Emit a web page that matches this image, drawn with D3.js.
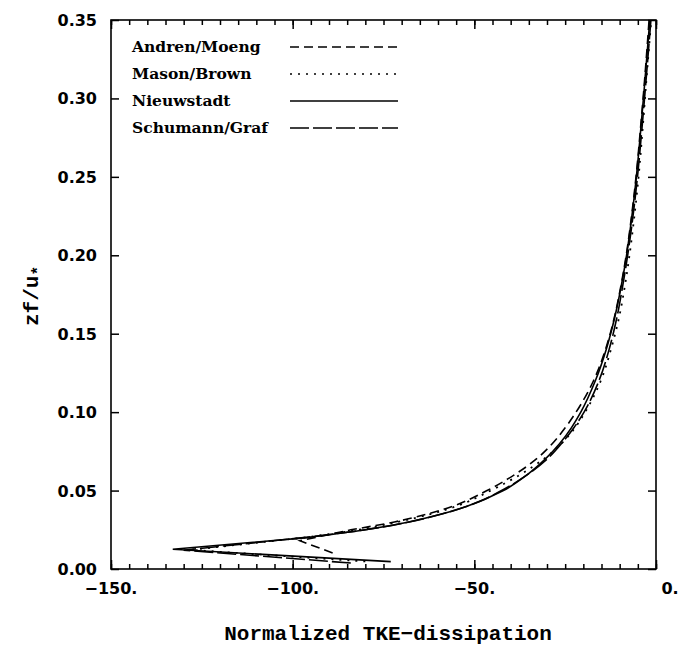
<!DOCTYPE html>
<html>
<head>
<meta charset="utf-8">
<script src="https://cdn.jsdelivr.net/npm/d3@7"></script>
<style>
  html, body { margin: 0; padding: 0; background: #fff; }
  svg { display: block; }
</style>
</head>
<body>
<svg id="chart" width="680" height="650"></svg>
<script>
// ---------- data ----------
const seriesNames = ["Andren/Moeng", "Mason/Brown", "Nieuwstadt", "Schumann/Graf"];

const andrenZ = [0.0102, 0.018, 0.025, 0.030, 0.035, 0.040, 0.050, 0.060, 0.070, 0.080, 0.090, 0.100, 0.120, 0.140, 0.160, 0.180, 0.200, 0.220, 0.250, 0.280, 0.310, 0.350];
const andrenX = [-89, -98, -84, -72, -63, -56, -46.5, -39, -33, -28.5, -25, -22, -17.2, -13.9, -11.5, -9.7, -8.2, -7.0, -5.5, -4.3, -3.2, -1.9];

const masonZ = [0.0048, 0.0122, 0.020, 0.025, 0.030, 0.035, 0.040, 0.050, 0.060, 0.070, 0.080, 0.090, 0.100, 0.120, 0.140, 0.160, 0.180, 0.200, 0.220, 0.250, 0.280, 0.310, 0.350];
const masonX = [-80, -128, -97, -82, -71, -62, -55, -45.5, -37.5, -31, -26, -22.3, -19.5, -15.2, -12.4, -10.2, -8.6, -7.3, -6.2, -4.8, -3.7, -2.7, -1.3];

const nieuwZ = [0.0047, 0.0126, 0.020, 0.025, 0.030, 0.035, 0.040, 0.050, 0.060, 0.070, 0.080, 0.090, 0.100, 0.120, 0.140, 0.160, 0.180, 0.200, 0.220, 0.250, 0.280, 0.310, 0.350];
const nieuwX = [-73, -133, -96, -80, -68, -59, -52, -42, -35.5, -30.5, -26.5, -23.3, -20.7, -16.7, -13.7, -11.4, -9.6, -8.1, -6.9, -5.4, -4.2, -3.1, -1.7];

const schumZ = [0.0038, 0.0120, 0.020, 0.025, 0.030, 0.035, 0.040, 0.050, 0.060, 0.070, 0.080, 0.090, 0.100, 0.120, 0.140, 0.160, 0.180, 0.200, 0.220, 0.250, 0.280, 0.310, 0.350];
const schumX = [-84, -130, -97, -80, -68, -59, -52, -42.5, -35.5, -30, -26, -22.6, -19.8, -15.7, -12.9, -10.8, -9.2, -7.8, -6.6, -5.1, -3.9, -2.8, -1.4];

const xTickValues = [-150, -100, -50, 0];
const xTickLabels = ["\u2212150.", "\u2212100.", "\u221250.", "0."];
const yTickValues = [0, 0.05, 0.10, 0.15, 0.20, 0.25, 0.30, 0.35];
const yTickLabels = ["0.00", "0.05", "0.10", "0.15", "0.20", "0.25", "0.30", "0.35"];

// ---------- layout ----------
const svg = d3.select("#chart");
const L = 111, R = 656, T = 20, B = 569;
const x = d3.scaleLinear().domain([-150, 0]).range([L, R]);
const y = d3.scaleLinear().domain([0, 0.35]).range([B, T]);

const dashes = ["9,5", "2,6", null, "19,4"];
const series = [
  { name: seriesNames[0], z: andrenZ, v: andrenX, dash: dashes[0] },
  { name: seriesNames[1], z: masonZ, v: masonX, dash: dashes[1] },
  { name: seriesNames[2], z: nieuwZ, v: nieuwX, dash: dashes[2] },
  { name: seriesNames[3], z: schumZ, v: schumX, dash: dashes[3] }
];

// ---------- axes (ticks inward) ----------
const minorX = d3.range(-150, 0.001, 5);
svg.append("g").attr("transform", `translate(0,${B})`)
  .call(d3.axisBottom(x).tickValues(minorX).tickSize(-5).tickFormat(""));
svg.append("g").attr("transform", `translate(0,${T})`)
  .call(d3.axisTop(x).tickValues(minorX).tickSize(-5).tickFormat(""));
svg.append("g").attr("transform", `translate(0,${B})`)
  .call(d3.axisBottom(x).tickValues(xTickValues).tickSize(-9).tickFormat(""));
svg.append("g").attr("transform", `translate(0,${T})`)
  .call(d3.axisTop(x).tickValues(xTickValues).tickSize(-9).tickFormat(""));
svg.append("g").attr("transform", `translate(${L},0)`)
  .call(d3.axisLeft(y).tickValues(yTickValues).tickSize(-8).tickFormat(""));
svg.append("g").attr("transform", `translate(${R},0)`)
  .call(d3.axisRight(y).tickValues(yTickValues).tickSize(-8).tickFormat(""));
svg.selectAll(".domain").remove();
svg.selectAll(".tick line").attr("stroke", "#000").attr("stroke-width", 1.5);

// frame
svg.append("rect").attr("x", L).attr("y", T).attr("width", R - L).attr("height", B - T)
  .attr("fill", "none").attr("stroke", "#000").attr("stroke-width", 1.6);

// tick labels
const tickFont = "'DejaVu Sans', sans-serif";
svg.append("g").selectAll("text").data(xTickValues).join("text")
  .attr("x", (d) => x(d) + (d === 0 ? 14 : 0))
  .attr("y", 594)
  .attr("text-anchor", "middle")
  .attr("font-family", tickFont).attr("font-weight", "bold").attr("font-size", 16)
  .text((d, i) => xTickLabels[i]);

svg.append("g").selectAll("text").data(yTickValues).join("text")
  .attr("x", 97)
  .attr("y", (d) => y(d) + 6)
  .attr("text-anchor", "end")
  .attr("font-family", tickFont).attr("font-weight", "bold").attr("font-size", 16)
  .text((d, i) => yTickLabels[i]);

// axis titles
svg.append("text")
  .attr("x", 388).attr("y", 640)
  .attr("text-anchor", "middle")
  .attr("font-family", "'Liberation Mono', monospace").attr("font-size", 21)
  .attr("font-weight", "bold")
  .text("Normalized TKE\u2212dissipation");

const yt = svg.append("text")
  .attr("transform", "translate(38,296) rotate(-90)")
  .attr("text-anchor", "middle")
  .attr("font-family", "'Liberation Mono', monospace").attr("font-size", 21)
  .attr("font-weight", "bold");
yt.append("tspan").text("zf/u");
yt.append("tspan").attr("font-size", 16).attr("dy", 5).text("*");

// ---------- curves ----------
// sharp zig-zag near the surface (first three levels), smooth profile above
const lineLin = d3.line().x((d) => x(d[0])).y((d) => y(d[1]));
const lineSmooth = d3.line().x((d) => x(d[0])).y((d) => y(d[1])).curve(d3.curveMonotoneY);
function pathFor(s) {
  const pts = s.v.map((v, i) => [v, s.z[i]]);
  const low = lineLin(pts.slice(0, 3));
  const high = lineSmooth(pts.slice(2)).replace(/^M[^LC]*/, "");
  return low + high;
}
svg.append("clipPath").attr("id", "plotclip")
  .append("rect").attr("x", L).attr("y", T).attr("width", R - L).attr("height", B - T);

svg.append("g").attr("clip-path", "url(#plotclip)")
  .selectAll("path").data(series).join("path")
  .attr("d", pathFor)
  .attr("fill", "none")
  .attr("stroke", "#000")
  .attr("stroke-width", (s) => s.dash === "2,6" ? 1.8 : 1.6)
  .attr("stroke-dasharray", (s) => s.dash)
  .attr("stroke-linejoin", "miter");

// ---------- legend ----------
const legY = [47, 74, 101, 128];
const leg = svg.append("g");
leg.selectAll("text").data(series).join("text")
  .attr("x", 132).attr("y", (d, i) => legY[i] + 5)
  .attr("font-family", "'DejaVu Serif', serif").attr("font-weight", "bold").attr("font-size", 15.5)
  .text((d) => d.name);
leg.selectAll("line").data(series).join("line")
  .attr("x1", 290).attr("x2", 398)
  .attr("y1", (d, i) => legY[i]).attr("y2", (d, i) => legY[i])
  .attr("stroke", "#000").attr("stroke-width", 1.6)
  .attr("stroke-dasharray", (d) => d.dash);
</script>
</body>
</html>
